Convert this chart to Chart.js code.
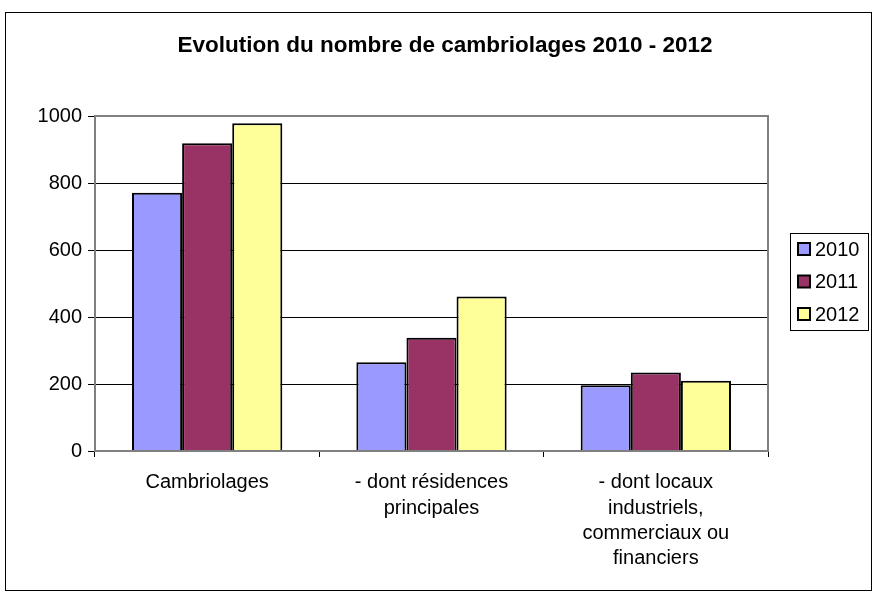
<!DOCTYPE html>
<html>
<head>
<meta charset="utf-8">
<script src="https://cdn.jsdelivr.net/npm/chart.js@4"></script>
<style>
  html, body { margin: 0; padding: 0; background: #fff; }
  #wrap { width: 872px; height: 597px; }
</style>
</head>
<body>
<div id="wrap"><canvas id="barChart" width="872" height="597"></canvas></div>
<script>
var categories = [
  'Cambriolages',
  ['- dont résidences', 'principales'],
  ['- dont locaux', 'industriels,', 'commerciaux ou', 'financiers']
];
var years = ['2010', '2011', '2012'];
var values2010 = [771, 265, 196];
var values2011 = [919, 338, 234];
var values2012 = [978, 461, 210];
var yTicks = [0, 200, 400, 600, 800, 1000];

var colors = ['#9999FF', '#993366', '#FFFF99'];
var FONT = 'Arial, "Liberation Sans", sans-serif';

// title, outer frame, plot border and boxed legend
var frame = {
  id: 'frame',
  beforeDraw: function (chart) {
    var c = chart.ctx;
    c.save();
    c.strokeStyle = '#000';
    c.lineWidth = 1;
    c.strokeRect(5.5, 12.5, 866, 578);
    c.fillStyle = '#000';
    c.font = 'bold 22.5px ' + FONT;
    c.textAlign = 'center';
    c.textBaseline = 'middle';
    c.fillText('Evolution du nombre de cambriolages 2010 - 2012', 445, 46);
    c.restore();
  },
  afterDraw: function (chart) {
    var c = chart.ctx, a = chart.chartArea;
    c.save();
    c.strokeStyle = '#808080';
    c.lineWidth = 2;
    c.strokeRect(a.left, a.top, a.right - a.left, a.bottom - a.top);
    // legend
    c.lineWidth = 1;
    c.strokeStyle = '#000';
    c.strokeRect(790.5, 233.5, 78, 97);
    c.font = '20px ' + FONT;
    c.textBaseline = 'middle';
    c.textAlign = 'left';
    chart.data.datasets.forEach(function (ds, i) {
      var y = 249 + i * 32.5;
      c.fillStyle = ds.backgroundColor;
      c.fillRect(798, y - 6, 12, 12);
      c.lineWidth = 2;
      c.strokeStyle = '#000';
      c.strokeRect(798, y - 6, 12, 12);
      c.fillStyle = '#000';
      c.fillText(ds.label, 815, y + 1);
    });
    c.restore();
  }
};

var ctx = document.getElementById('barChart').getContext('2d');
var barChart = new Chart(ctx, {
  type: 'bar',
  data: {
    labels: categories,
    datasets: [
      { label: years[0], data: values2010, backgroundColor: colors[0] },
      { label: years[1], data: values2011, backgroundColor: colors[1] },
      { label: years[2], data: values2012, backgroundColor: colors[2] }
    ]
  },
  options: {
    responsive: false,
    animation: false,
    layout: { padding: { left: 5, right: 104, top: 116, bottom: 0 } },
    datasets: {
      bar: {
        borderColor: '#000',
        borderWidth: 2,
        categoryPercentage: 0.67,
        barPercentage: 1.0
      }
    },
    plugins: {
      legend: { display: false },
      title: { display: false },
      tooltip: { enabled: false }
    },
    scales: {
      x: {
        offset: true,
        grid: {
          offset: true,
          drawOnChartArea: false,
          drawTicks: true,
          tickLength: 6,
          color: '#000'
        },
        border: { color: '#808080', width: 2 },
        ticks: {
          color: '#000',
          font: { family: FONT, size: 20, lineHeight: 1.27 },
          maxRotation: 0,
          autoSkip: false,
          padding: 13
        },
        afterFit: function (scale) { scale.height = 146; }
      },
      y: {
        min: 0,
        max: 1000,
        afterBuildTicks: function (scale) {
          scale.ticks = yTicks.map(function (v) { return { value: v }; });
        },
        grid: { color: '#000', lineWidth: 1, tickLength: 7 },
        border: { color: '#808080', width: 2 },
        ticks: {
          color: '#000',
          font: { family: FONT, size: 20 },
          padding: 6,
          callback: function (v) { return String(v); }
        },
        afterFit: function (scale) { scale.width = 90; }
      }
    }
  },
  plugins: [frame]
});
</script>
</body>
</html>
